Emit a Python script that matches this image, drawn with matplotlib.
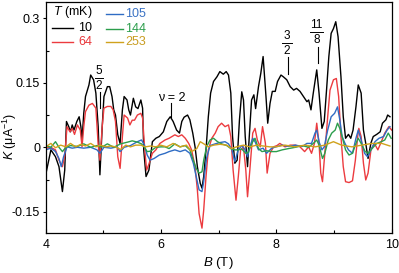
import matplotlib
matplotlib.use("Agg")
import matplotlib.pyplot as plt
from matplotlib.ticker import FixedLocator

plt.rcParams['font.family'] = ['Liberation Sans', 'DejaVu Sans']
plt.rcParams['mathtext.fontset'] = 'custom'
plt.rcParams['mathtext.rm'] = 'Liberation Sans'
plt.rcParams['mathtext.it'] = 'Liberation Sans:italic'

# ---------------- data ----------------
temps = ["10", "64", "105", "144", "253"]
colors = ["#000000", "#ec3b3f", "#2f6cc4", "#2b9e4c", "#d0a21c"]
text_colors = ["#000000", "#e8363a", "#3a72c4", "#2b9e4c", "#c99d22"]

B_10 = [4.0,4.09,4.17,4.23,4.29,4.33,4.36,4.40,4.43,4.46,4.49,4.54,4.58,4.61,4.63,4.66,4.69,4.75,4.78,4.83,4.87,4.91,4.94,4.98,5.01,5.07,5.11,5.15,5.18,5.21,5.25,5.29,5.33,5.36,5.41,5.44,5.47,5.52,5.56,5.60,5.65,5.68,5.70,5.74,5.79,5.85,5.91,5.97,6.04,6.10,6.16,6.21,6.27,6.32,6.36,6.40,6.46,6.50,6.55,6.59,6.63,6.68,6.71,6.74,6.78,6.82,6.86,6.91,6.97,7.02,7.08,7.13,7.17,7.21,7.24,7.28,7.32,7.36,7.40,7.43,7.46,7.50,7.53,7.57,7.61,7.64,7.69,7.73,7.77,7.82,7.85,7.89,7.93,7.98,8.02,8.08,8.12,8.18,8.24,8.30,8.35,8.41,8.47,8.53,8.56,8.60,8.64,8.70,8.74,8.79,8.83,8.87,8.91,8.95,8.99,9.03,9.07,9.12,9.16,9.20,9.25,9.29,9.33,9.38,9.42,9.47,9.51,9.55,9.59,9.64,9.68,9.74,9.80,9.84,9.90,9.93,9.97]
K_10 = [-0.064,-0.006,-0.022,-0.045,-0.103,-0.053,0.060,0.048,0.036,0.052,0.040,0.060,0.071,0.048,0.017,0.079,0.118,0.145,0.168,0.157,0.126,0.048,-0.064,0.048,0.118,0.141,0.141,0.118,0.087,0.075,0.029,0.009,0.087,0.118,0.110,0.087,0.075,0.114,0.094,0.090,0.110,0.091,-0.006,-0.068,-0.053,0.013,0.021,0.025,0.036,0.060,0.071,0.060,0.040,0.033,0.060,0.070,0.075,0.064,0.033,0.001,-0.045,-0.084,-0.095,-0.068,-0.006,0.071,0.126,0.153,0.164,0.176,0.170,0.176,0.168,0.126,0.025,-0.037,-0.030,0.064,0.129,0.110,0.025,-0.045,0.025,0.110,0.122,0.090,0.141,0.172,0.211,0.118,0.056,0.102,0.130,0.130,0.153,0.168,0.164,0.157,0.141,0.133,0.137,0.130,0.118,0.106,0.110,0.087,0.126,0.180,0.126,0.044,0.060,0.133,0.211,0.265,0.276,0.292,0.257,0.164,0.071,0.021,0.030,0.021,0.040,0.094,0.145,0.126,0.040,0.009,-0.026,0.010,0.025,0.030,0.036,0.056,0.064,0.075,0.071]

B_64 = [4.0,4.09,4.17,4.23,4.29,4.33,4.37,4.42,4.46,4.50,4.55,4.60,4.63,4.66,4.69,4.75,4.81,4.87,4.91,4.94,4.98,5.01,5.07,5.13,5.17,5.21,5.25,5.29,5.33,5.36,5.42,5.46,5.50,5.54,5.59,5.65,5.68,5.72,5.75,5.79,5.85,5.91,5.98,6.07,6.14,6.24,6.30,6.36,6.42,6.48,6.53,6.59,6.63,6.66,6.71,6.74,6.78,6.82,6.88,6.94,6.99,7.05,7.11,7.17,7.21,7.25,7.30,7.34,7.38,7.43,7.47,7.50,7.54,7.59,7.63,7.67,7.72,7.76,7.81,7.84,7.89,7.95,8.01,8.06,8.15,8.24,8.33,8.41,8.49,8.56,8.61,8.66,8.70,8.74,8.77,8.80,8.84,8.89,8.93,8.99,9.04,9.08,9.12,9.16,9.20,9.26,9.32,9.37,9.41,9.43,9.47,9.51,9.55,9.59,9.64,9.70,9.76,9.82,9.88,9.95,10.0]
K_64 = [-0.002,0.0,-0.006,-0.030,-0.045,-0.020,0.048,0.036,0.044,0.030,0.052,0.040,0.001,0.048,0.083,0.098,0.102,0.091,0.006,-0.030,0.048,0.091,0.095,0.095,0.087,0.060,-0.022,-0.049,0.025,0.075,0.068,0.052,0.063,0.063,0.075,0.079,0.068,-0.010,-0.053,-0.039,-0.014,-0.006,0.009,0.017,0.021,0.029,0.025,0.029,0.021,0.009,-0.006,-0.045,-0.099,-0.154,-0.188,-0.146,-0.068,-0.006,0.021,0.033,0.048,0.056,0.048,0.052,0.025,-0.053,-0.123,-0.068,-0.006,0.001,-0.053,-0.115,-0.053,0.033,0.044,0.017,0.001,0.048,0.009,-0.060,-0.014,0.001,0.004,0.009,0.001,0.005,0.005,0.001,-0.010,0.001,-0.014,0.009,0.056,0.009,-0.060,-0.080,-0.014,0.071,0.133,0.157,0.160,0.118,0.025,-0.045,-0.080,-0.082,-0.078,-0.030,0.025,0.044,0.025,-0.037,-0.076,-0.060,-0.006,0.009,-0.006,0.013,0.033,0.048,0.040]

B_105 = [4.0,4.09,4.17,4.23,4.27,4.31,4.37,4.46,4.55,4.66,4.78,4.89,4.94,5.01,5.13,5.24,5.29,5.36,5.47,5.59,5.66,5.71,5.76,5.81,5.88,5.97,6.07,6.14,6.24,6.33,6.42,6.50,6.56,6.61,6.66,6.71,6.74,6.79,6.85,6.94,7.02,7.11,7.17,7.23,7.28,7.34,7.40,7.46,7.50,7.54,7.59,7.63,7.69,7.77,7.83,7.92,8.02,8.10,8.21,8.33,8.45,8.53,8.61,8.67,8.70,8.74,8.79,8.83,8.89,8.95,9.01,9.06,9.10,9.14,9.19,9.25,9.32,9.38,9.42,9.47,9.53,9.58,9.64,9.71,9.78,9.86,9.92,9.97]
K_105 = [-0.006,-0.002,-0.010,-0.026,-0.045,-0.022,0.001,-0.002,0.000,-0.002,0.000,-0.006,-0.014,0.000,-0.002,0.001,-0.010,0.000,0.004,0.013,0.017,0.006,-0.018,-0.030,-0.026,-0.018,-0.014,-0.010,-0.006,-0.010,-0.006,-0.014,-0.037,-0.068,-0.099,-0.103,-0.080,-0.025,0.004,0.008,0.011,0.013,0.008,-0.006,-0.033,-0.006,0.004,-0.006,-0.022,0.001,0.021,0.013,-0.006,-0.002,-0.014,-0.002,0.002,0.005,0.002,0.005,0.002,0.009,0.009,0.033,0.040,0.013,-0.006,0.001,0.040,0.071,0.079,0.094,0.064,0.025,0.009,-0.006,-0.014,0.021,0.040,0.017,-0.014,-0.022,-0.006,0.013,0.021,0.025,0.040,0.048]

B_144 = [4.0,4.09,4.17,4.23,4.29,4.35,4.43,4.55,4.66,4.78,4.89,4.97,5.07,5.18,5.30,5.42,5.50,5.59,5.66,5.71,5.76,5.82,5.91,6.0,6.07,6.14,6.24,6.33,6.42,6.50,6.56,6.61,6.66,6.71,6.74,6.79,6.85,6.91,6.98,7.05,7.14,7.21,7.28,7.34,7.40,7.47,7.51,7.59,7.63,7.69,7.75,7.83,7.92,8.0,8.10,8.21,8.33,8.45,8.56,8.64,8.70,8.74,8.80,8.84,8.90,8.96,9.02,9.06,9.10,9.14,9.20,9.26,9.32,9.38,9.42,9.47,9.54,9.59,9.66,9.74,9.82,9.88,9.94,9.99]
K_144 = [0.004,0.000,0.013,0.000,-0.010,0.000,0.004,0.002,0.008,0.000,0.004,0.000,0.008,0.000,0.008,0.012,0.015,0.012,0.008,0.000,-0.010,-0.009,0.000,0.001,0.001,-0.003,0.008,0.001,0.004,-0.006,-0.030,-0.049,-0.060,-0.057,-0.030,0.001,0.017,0.021,0.013,0.008,0.004,-0.003,-0.006,-0.006,-0.004,-0.014,-0.012,0.013,0.021,-0.003,-0.010,-0.008,-0.010,-0.010,-0.006,-0.003,0.000,0.004,0.000,0.009,0.017,0.005,-0.026,-0.014,0.017,0.033,0.040,0.056,0.044,0.025,-0.006,-0.018,-0.014,0.009,0.021,0.009,-0.010,-0.014,-0.003,0.009,0.013,0.017,0.033,0.021]

B_253 = [4.0,4.09,4.17,4.26,4.35,4.43,4.52,4.61,4.69,4.78,4.87,4.95,5.04,5.13,5.21,5.30,5.39,5.47,5.56,5.65,5.73,5.82,5.91,5.99,6.10,6.21,6.33,6.44,6.53,6.62,6.68,6.73,6.82,6.91,7.02,7.14,7.22,7.31,7.43,7.54,7.66,7.77,7.89,7.98,8.15,8.32,8.50,8.67,8.84,8.99,9.13,9.31,9.48,9.66,9.83,9.97]
K_253 = [0.001,0.009,-0.001,0.005,0.001,0.009,0.001,0.007,0.003,0.009,0.001,0.005,0.001,0.003,0.001,-0.005,0.005,0.001,0.005,0.005,0.001,0.003,0.001,0.005,0.001,0.009,0.001,0.005,-0.010,-0.003,0.013,0.009,0.001,0.005,0.007,0.005,-0.003,0.001,0.005,0.001,0.005,0.003,0.001,0.001,0.005,0.001,0.005,0.001,0.005,0.013,0.005,0.001,0.005,0.009,0.009,0.003]

series_B = [B_10, B_64, B_105, B_144, B_253]
series_K = [K_10, K_64, K_105, K_144, K_253]

x_ticks = [4, 6, 8, 10]
y_ticks = [-0.15, 0, 0.15, 0.3]
y_ticklabels = ["-0.15", "0", "0.15", "0.3"]

# ---------------- figure ----------------
W, H = 399, 273
fig = plt.figure(figsize=(W / 100, H / 100), dpi=100)
L, R, T, Bt = 45.7, 391.7, 1.5, 233.3
ax = fig.add_axes([L / W, 1 - Bt / H, (R - L) / W, (Bt - T) / H])

for Bv, Kv, c in zip(series_B, series_K, colors):
    ax.plot(Bv, Kv, color=c, lw=1.0, solid_joinstyle='round')

ax.set_xlim(4, 10)
ax.set_ylim(-0.2, 0.339)

ax.xaxis.set_major_locator(FixedLocator(x_ticks))
ax.xaxis.set_minor_locator(FixedLocator([5, 7, 9]))
ax.yaxis.set_major_locator(FixedLocator(y_ticks))
ax.yaxis.set_minor_locator(FixedLocator([-0.075, 0.075, 0.225]))
ax.set_yticklabels(y_ticklabels)
ax.tick_params(axis='x', which='major', direction='in', length=3, width=0.8, labelsize=9, pad=4)
ax.tick_params(axis='x', which='minor', direction='in', length=2, width=0.8)
ax.tick_params(axis='y', which='major', direction='out', length=2.5, width=0.8, labelsize=9, pad=1.5)
ax.tick_params(axis='y', which='minor', direction='in', length=2, width=0.8)
for s in ax.spines.values():
    s.set_linewidth(0.9)

ax.set_xlabel(r'$B$ (T)', fontsize=9.5, labelpad=3)
ax.set_ylabel(r'$K$ (μA$^{-1}$)', fontsize=9)
ax.yaxis.set_label_coords(-0.078, 0.42)

# ---------------- legend (manual) ----------------
def ax_xy(px, py):
    return (px - L) / (R - L), (Bt - py) / (Bt - T)

tx, ty = ax_xy(53, 12.5)
ax.text(tx, ty, r'$T$ (mK)', transform=ax.transAxes, fontsize=9, va='center', ha='left')
leg_items = [(52, 73, 92, 28.3), (52, 73, 92, 42.3), (106, 123, 146, 14), (106, 123, 146, 28.5), (106, 123, 146, 42.3)]
for (x0, x1, xt, yy), lab, c, tc in zip(leg_items, temps, colors, text_colors):
    a0, b0 = ax_xy(x0, yy)
    a1, _ = ax_xy(x1, yy)
    at, _ = ax_xy(xt, yy)
    ax.plot([a0, a1], [b0, b0], color=c, lw=1.0, transform=ax.transAxes)
    ax.text(at, b0, lab, color=tc, transform=ax.transAxes, fontsize=9, va='center', ha='right')

# ---------------- annotations ----------------
def frac(num, den, xb, yb, half, ylo, yhi, xl):
    ax.text(xb, yb + 0.003, num, fontsize=8.5, ha='center', va='bottom')
    ax.text(xb, yb - 0.004, den, fontsize=8.5, ha='center', va='top')
    ax.plot([xb - half, xb + half], [yb, yb], color='k', lw=0.7)
    ax.plot([xl, xl], [ylo, yhi], color='k', lw=0.8)

frac('5', '2', 4.924, 0.161, 0.07, 0.091, 0.129, 4.94)
frac('3', '2', 8.185, 0.2426, 0.08, 0.170, 0.210, 8.196)
frac('11', '8', 8.699, 0.268, 0.11, 0.196, 0.233, 8.716)
ax.text(6.19, 0.115, 'ν = 2', fontsize=9, ha='center', va='center')
ax.plot([6.167, 6.167], [0.070, 0.103], color='k', lw=0.8)

fig.savefig('out.png', dpi=100)
